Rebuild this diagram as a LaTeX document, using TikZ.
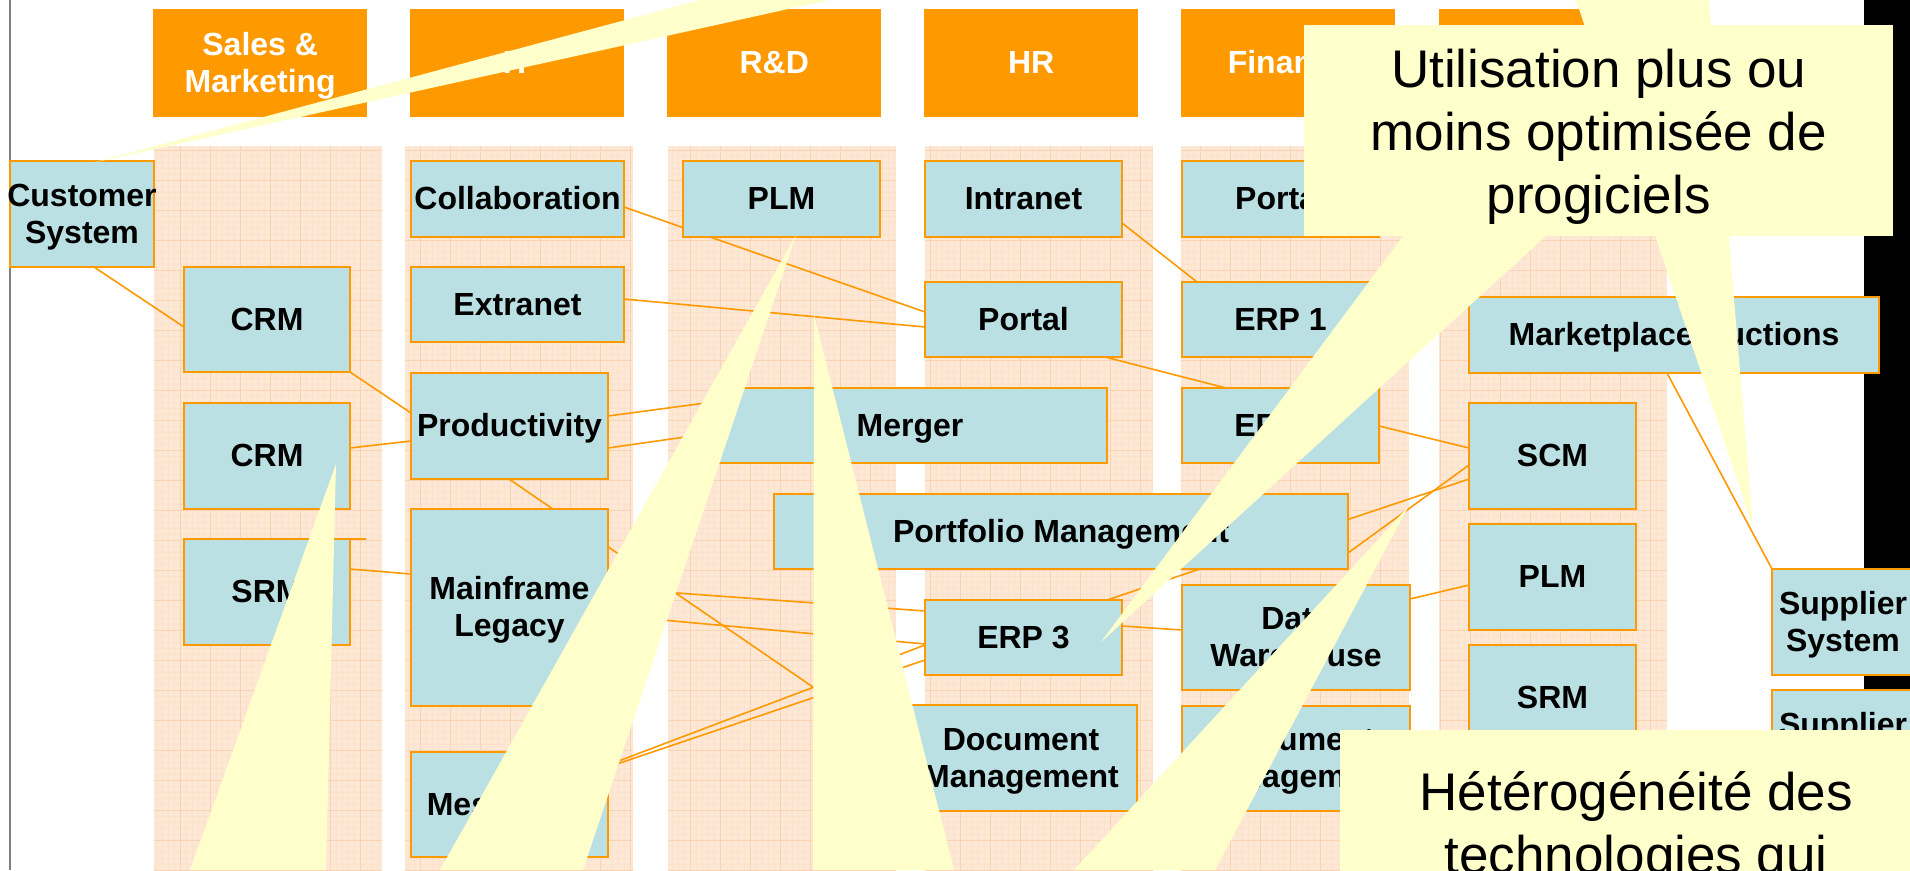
\documentclass[tikz,border=0pt]{standalone}
\usepackage{fontspec}
\setmainfont{Liberation Sans}
\usetikzlibrary{calc}
\definecolor{orng}{HTML}{FF9900}
\definecolor{boxblue}{HTML}{BBE0E3}
\definecolor{colbg}{HTML}{FDE8D6}
\definecolor{gridmaj}{HTML}{FAD4B2}
\definecolor{gridmin}{HTML}{FCE2CC}
\definecolor{note}{HTML}{FFFFCC}
\newcommand\boxfont{\fontsize{32}{37}\selectfont\bfseries}
\newcommand\notefont{\fontsize{53}{63}\selectfont}
\newcommand\vstrut{\rule[-7pt]{0pt}{35pt}}
\pgfdeclarelayer{back}
\pgfdeclarelayer{wires}
\pgfsetlayers{back,wires,main}
\begin{document}
\begin{tikzpicture}[x=1pt, y=-1pt,
    box/.style={draw=orng, fill=boxblue, line width=2.4pt, inner sep=0pt, outer sep=0pt,
      anchor=north west, align=center, font=\boxfont},
    head/.style={fill=orng, text=white, inner sep=0pt, anchor=north west,
      minimum width=214, minimum height=108, align=center, font=\boxfont},
    link/.style={draw=orng, line width=1.6pt},
    bubble/.style={fill=note, inner sep=0pt, anchor=north west},
    bubtext/.style={align=center, font=\notefont}]
  \useasboundingbox (0,0) rectangle (1910,870);
  \clip (0,0) rectangle (1910,870);

  \begin{pgfonlayer}{back}
    \fill[white] (0,0) rectangle (1910,870);
    \fill[black] (1864,0) rectangle (1910,870);
    \draw[gray, line width=2pt] (10,0) -- (10,870);
    \foreach \x in {154,405,668,925,1181,1439} {
      \begin{scope}
        \clip (\x,146) rectangle ++(228,724);
        \fill[colbg] (\x,146) rectangle ++(228,724);
        \draw[gridmin, line width=0.4pt, step=6pt] (\x,146) grid ++(228,724);
        \draw[gridmaj, line width=0.8pt, step=30pt] (\x,146) grid ++(228,724);
      \end{scope}
    }
    \node[head] (hsales) at (153,9) {\vstrut Sales \&\\Marketing\vstrut};
    \node[head] (hit) at (410,9) {\vstrut IT};
    \node[head] (hrd) at (667,9) {\vstrut R\&D};
    \node[head] (hhr) at (924,9) {\vstrut HR};
    \node[head] (hfin) at (1181,9) {\vstrut Finance};
    \node[head] (hsup) at (1439,9) {};
  \end{pgfonlayer}

  \node[box, minimum width=144, minimum height=106] (cust) at (10,161) {\vstrut\makebox[140pt]{Customer}\\System\vstrut};
  \node[box, minimum width=166, minimum height=105] (crmA) at (184,267) {\vstrut CRM};
  \node[box, minimum width=166, minimum height=106] (crmB) at (184,403) {\vstrut CRM};
  \node[box, minimum width=166, minimum height=106] (srmA) at (184,539) {\vstrut SRM};
  \coordinate (srmstub) at (366,539);

  \node[box, minimum width=213, minimum height=76] (collab) at (411,161) {\vstrut Collaboration};
  \node[box, minimum width=213, minimum height=75] (extra) at (411,267) {\vstrut Extranet};
  \node[box, minimum width=197, minimum height=106] (prod) at (411,373) {\vstrut Productivity};
  \node[box, minimum width=197, minimum height=197] (mainf) at (411,509) {\vstrut Mainframe\\Legacy\vstrut};
  \node[box, minimum width=197, minimum height=105] (mess) at (411,752) {\vstrut Messaging};

  \node[box, minimum width=197, minimum height=76] (plmA) at (683,161) {\vstrut PLM};
  \node[box, minimum width=394, minimum height=75] (merger) at (713,388) {\vstrut Merger};
  \node[box, minimum width=574, minimum height=75] (portf) at (774,494) {\vstrut Portfolio Management};

  \node[box, minimum width=197, minimum height=76] (intra) at (925,161) {\vstrut Intranet};
  \node[box, minimum width=197, minimum height=75] (portalH) at (925,282) {\vstrut Portal};
  \node[box, minimum width=197, minimum height=75] (erpC) at (925,600) {\vstrut ERP 3};
  \node[box, minimum width=232, minimum height=106] (docH) at (905,705) {\vstrut Document\\Management\vstrut};

  \node[box, minimum width=197, minimum height=76] (portalF) at (1182,161) {\vstrut Portal};
  \node[box, minimum width=197, minimum height=75] (erpA) at (1182,282) {\vstrut ERP 1};
  \node[box, minimum width=197, minimum height=75] (erpB) at (1182,388) {\vstrut ERP 2};
  \node[box, minimum width=228, minimum height=105] (dw) at (1182,585) {\vstrut Data\\Warehouse\vstrut};
  \node[box, minimum width=228, minimum height=105] (docF) at (1182,706) {\vstrut Document\\Management\vstrut};

  \node[box, minimum width=410, minimum height=76] (market) at (1469,297) {\vstrut Marketplace Auctions};
  \node[box, minimum width=167, minimum height=106] (scm) at (1469,403) {\vstrut SCM};
  \node[box, minimum width=167, minimum height=106] (plmB) at (1469,524) {\vstrut PLM};
  \node[box, minimum width=167, minimum height=106] (srmB) at (1469,645) {\vstrut SRM};
  \node[box, minimum width=142, minimum height=106] (supA) at (1772,569) {\vstrut Supplier\\System\vstrut};
  \node[box, minimum width=142, minimum height=106] (supB) at (1772,690) {\vstrut Supplier\\System\vstrut};

  \begin{pgfonlayer}{wires}
    \draw[link] ($(cust.south west)+(84,0)$) -- ($(crmA.north west)+(0,60)$);
    \draw[link] (crmA.south east) -- ($(prod.north west)+(0,40)$);
    \draw[link] ($(crmB.north east)+(0,45)$) -- ($(prod.north west)+(0,68)$);
    \draw[link] ($(srmA.north east)+(0,30)$) -- ($(mainf.north west)+(0,65)$);
    \draw[link] (srmA.north east) -- (srmstub);
    \draw[link] ($(collab.north east)+(0,46)$) -- ($(portalH.north west)+(0,30)$);
    \draw[link] ($(extra.north east)+(0,32)$) -- ($(portalH.north west)+(0,45)$);
    \draw[link] ($(prod.north east)+(0,43)$) -- ($(merger.north west)+(0,14)$);
    \draw[link] ($(prod.north east)+(0,75)$) -- ($(merger.north west)+(0,45)$);
    \draw[link] ($(prod.south west)+(98,0)$) -- ($(docH.north west)+(0,45)$);
    \draw[link] ($(mainf.north east)+(0,79)$) -- ($(erpC.north west)+(0,11)$);
    \draw[link] ($(mainf.north east)+(0,106)$) -- ($(erpC.north west)+(0,44)$);
    \draw[link] ($(mess.north east)+(0,13)$) -- ($(erpC.north west)+(0,45)$);
    \draw[link] ($(mess.north east)+(0,15)$) -- ($(erpC.north west)+(0,60)$);
    \draw[link] ($(intra.north east)+(0,62)$) -- ($(erpA.north west)+(15,0)$);
    \draw[link] ($(portalH.south west)+(180,0)$) -- ($(erpB.north west)+(44,0)$);
    \draw[link] ($(erpB.north east)+(0,38)$) -- ($(scm.north west)+(0,45)$);
    \draw[link] ($(erpC.north east)+(-15,0)$) -- ($(scm.north west)+(0,76)$);
    \draw[link] ($(portf.north east)+(0,59)$) -- ($(scm.north west)+(0,62)$);
    \draw[link] ($(erpC.north east)+(0,26)$) -- ($(dw.north west)+(0,45)$);
    \draw[link] ($(dw.north east)+(0,14)$) -- ($(plmB.north west)+(0,61)$);
    \draw[link] ($(market.south west)+(198,0)$) -- (supA.north west);
  \end{pgfonlayer}

  \fill[note] (92,163) -- (700,0) -- (829,0) -- cycle;
  \fill[note] (1753,527) -- (1576,0) -- (1709,0) -- cycle;
  \fill[note] (1101,642) -- (1403,236) -- (1546,236) -- cycle;
  \fill[note] (1408,507) -- (1074,870) -- (1215,870) -- cycle;
  \fill[note] (336,464) -- (190,870) -- (326,870) -- cycle;
  \fill[note] (796,235) -- (440,870) -- (583,870) -- cycle;
  \fill[note] (814,315) -- (813,870) -- (954,870) -- cycle;

  \node[bubble, minimum width=589, minimum height=211] (noteA) at (1304,25) {};
  \node[bubtext] (noteAtxt) at ($(noteA.center)+(0,6)$) {Utilisation plus ou\\moins optimisée de\\progiciels};
  \node[bubble, minimum width=592, minimum height=150] (noteB) at (1340,730) {};
  \node[bubtext] (noteBtxt) at ($(noteB.center)+(0,23)$) {Hétérogénéité des\\technologies qui};
\end{tikzpicture}
\end{document}
